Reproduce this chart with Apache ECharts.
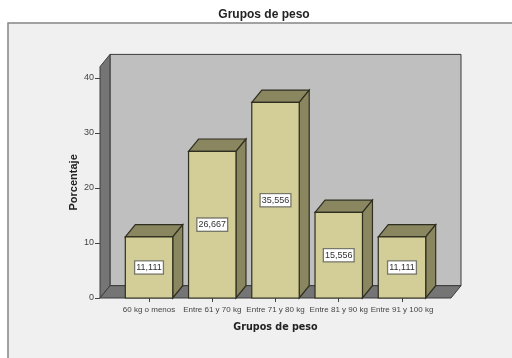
<!DOCTYPE html>
<html>
<head>
<meta charset="utf-8">
<style>html,body{margin:0;padding:0;background:#fff}#chart{width:512px;height:358px}</style>
<script src="https://cdn.jsdelivr.net/npm/echarts@6/dist/echarts.min.js"></script>
</head>
<body>
<div id="chart"></div>
<script>
const categories = ['60 kg o menos', 'Entre 61 y 70 kg', 'Entre 71 y 80 kg', 'Entre 81 y 90 kg', 'Entre 91 y 100 kg'];
const porcentaje = [11.111, 26.667, 35.556, 15.556, 11.111];
const yTicks = [0, 10, 20, 30, 40];
const titleText = 'Grupos de peso';
const xName = 'Grupos de peso';
const yName = 'Porcentaje';

// Extruded look: how far the back plane sits from the front plane, in pixels
const DEPTH_X = 10;
const DEPTH_Y = 12.3;
// Front-plane margin on each side of the category bands
const SIDE_PAD = 17.4;

const C = {
  panel: '#f0f0f0', panelEdge: '#858585', wall: '#bfbfbf', wallSide: '#757575', wallEdge: '#3c3c3c',
  front: '#d3ce97', shade: '#8a8660', barEdge: '#2f2f20', text: '#444'
};
const FONT = '"Liberation Sans", Arial, sans-serif';

// Draws the box around the plot: back wall, left wall and floor
function renderRoom(params) {
  const g = params.coordSys;
  const l = g.x - SIDE_PAD, r = g.x + g.width + SIDE_PAD, t = g.y, b = g.y + g.height;
  const edge = { stroke: C.wallEdge, lineWidth: 1 };
  const poly = (pts, fill) => ({ type: 'polygon', shape: { points: pts }, style: Object.assign({ fill }, edge) });
  return { type: 'group', children: [
    poly([[l + DEPTH_X, t - DEPTH_Y], [r + DEPTH_X, t - DEPTH_Y], [r + DEPTH_X, b - DEPTH_Y], [l + DEPTH_X, b - DEPTH_Y]], C.wall),
    poly([[l, b], [l + DEPTH_X, b - DEPTH_Y], [l + DEPTH_X, t - DEPTH_Y], [l, t]], C.wallSide),
    poly([[l, b], [r, b], [r + DEPTH_X, b - DEPTH_Y], [l + DEPTH_X, b - DEPTH_Y]], C.wallSide)
  ] };
}

// Draws one extruded bar with its boxed value label
function renderBar(params, api) {
  const v = api.value(1);
  const top = api.coord([api.value(0), v]);
  const base = api.coord([api.value(0), 0]);
  const w = api.size([1, 0])[0] * 0.75;
  const x0 = top[0] - w / 2, x1 = top[0] + w / 2, y0 = top[1], y1 = base[1];
  const edge = { stroke: C.barEdge, lineWidth: 1.2 };
  const poly = (pts, fill) => ({ type: 'polygon', shape: { points: pts }, style: Object.assign({ fill }, edge) });
  return { type: 'group', children: [
    poly([[x0, y0], [x1, y0], [x1 + DEPTH_X, y0 - DEPTH_Y], [x0 + DEPTH_X, y0 - DEPTH_Y]], C.shade),
    poly([[x1, y0], [x1 + DEPTH_X, y0 - DEPTH_Y], [x1 + DEPTH_X, y1 - DEPTH_Y], [x1, y1]], C.shade),
    poly([[x0, y0], [x1, y0], [x1, y1], [x0, y1]], C.front),
    { type: 'text', x: top[0], y: (y0 + y1) / 2, style: {
      text: v.toFixed(3).replace('.', ','), fill: '#333', font: '9px ' + FONT,
      align: 'center', verticalAlign: 'middle',
      backgroundColor: '#fff', borderColor: '#77776a', borderWidth: 1.3, padding: [2, 1, 1, 1]
    } }
  ] };
}

const chart = echarts.init(document.getElementById('chart'), null, { renderer: 'canvas' });
chart.setOption({
  animation: false,
  backgroundColor: '#fff',
  title: { text: titleText, left: 259, top: 4, textAlign: 'center',
    textStyle: { fontFamily: FONT, fontSize: 12, fontWeight: 'bold', color: '#222' } },
  graphic: { z: -10, elements: [{ type: 'rect', z: -10, shape: { x: 8, y: 23, width: 520, height: 350 },
    style: { fill: C.panel, stroke: C.panelEdge, lineWidth: 1.5 } }] },
  grid: { left: 117.4, right: 78.4, top: 66.7, bottom: 60 },
  xAxis: {
    type: 'category', data: categories, name: xName, nameLocation: 'middle', nameGap: 24,
    nameTextStyle: { fontFamily: '"DejaVu Sans", sans-serif', fontSize: 9.6, fontWeight: 'bold', color: '#222' },
    axisLine: { show: false },
    axisTick: { show: true, alignWithLabel: true, length: 4, lineStyle: { color: '#444' } },
    axisLabel: { interval: 0, margin: 8, fontFamily: FONT, fontSize: 8, color: C.text, hideOverlap: false }
  },
  yAxis: {
    type: 'value', min: 0, max: 42.05, offset: SIDE_PAD, name: yName, nameLocation: 'middle', nameGap: 21,
    nameMoveOverlap: false,
    nameTextStyle: { fontFamily: FONT, fontSize: 11, fontWeight: 'bold', color: '#222' },
    splitLine: { show: false },
    axisLine: { show: false },
    axisTick: { show: true, length: 5, customValues: yTicks, lineStyle: { color: '#444' } },
    axisLabel: { margin: 6, fontFamily: FONT, fontSize: 9, color: C.text, customValues: yTicks }
  },
  series: [
    { type: 'custom', z: 1, silent: true, clip: false, renderItem: renderRoom, data: [[0, 0]], encode: { x: 0, y: 1 } },
    { type: 'custom', z: 2, clip: false, renderItem: renderBar, encode: { x: 0, y: 1 },
      data: porcentaje.map((v, i) => [i, v]) }
  ]
});
</script>
</body>
</html>
